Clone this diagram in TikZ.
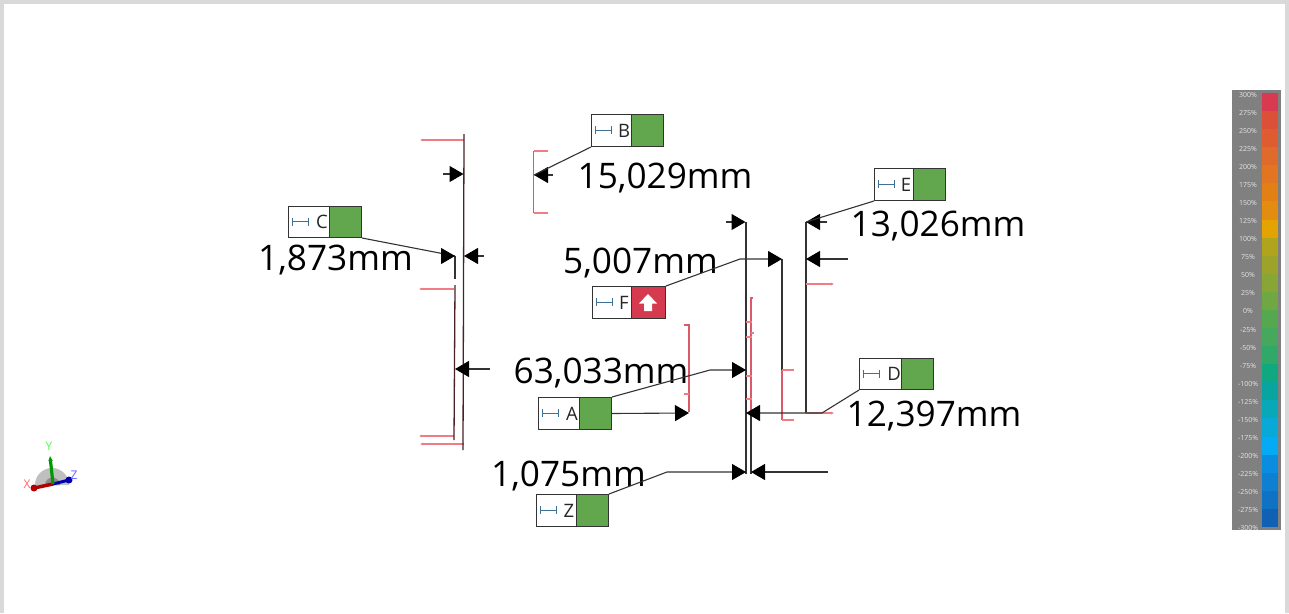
\documentclass[tikz,border=0pt]{standalone}
\usepackage{fontspec}
\setmainfont{Open Sans}
\usetikzlibrary{arrows.meta,calc}
\definecolor{lineK}{HTML}{333333}
\definecolor{darkred}{HTML}{4A2226}
\definecolor{redL}{HTML}{F07C86}
\definecolor{redV}{HTML}{DC5A68}
\definecolor{okG}{HTML}{62A74E}
\definecolor{badR}{HTML}{D63A4E}
\definecolor{iconB}{HTML}{3F7096}
\tikzset{
  dimtext/.style={font=\fontsize{35.2}{35}\selectfont, text=black, inner sep=0pt},
  taglabel/.style={draw=lineK, line width=1pt, fill=white, anchor=north west, inner sep=0pt, minimum height=#1},
  tagval/.style={draw=lineK, line width=1pt, anchor=north west, inner sep=0pt, minimum height=#1},
  leader/.style={draw=lineK, line width=1.1pt, -{Triangle[length=14pt,width=16pt,color=black,fill=black]}},
  partline/.style={draw=lineK, line width=1.1pt},
  darkline/.style={draw=darkred, line width=1.3pt},
  redline/.style={draw=redV, line width=1.1pt},
  redshort/.style={draw=redL, line width=1.1pt},
  redtick/.style={draw=redL, line width=1.1pt, -{Latex[length=3pt,width=3pt]}},
  legendtext/.style={font=\fontsize{7}{7}\selectfont, text=white!90!black, inner sep=0pt},
}
% #1 name, #2 x left, #3 x split, #4 x right, #5 y top, #6 y bottom, #7 letter, #8 fill
\newcommand{\tagbox}[8]{%
  \node[tagval=#6pt-#5pt, minimum width=#4pt-#3pt, fill=#8] (#1v) at (#3,#5) {};
  \node[taglabel=#6pt-#5pt, minimum width=#3pt-#2pt] (#1l) at (#2,#5) {};
  \node[font=\fontsize{18.5}{18}\selectfont, text=black!85, inner sep=0pt] (#1t) at (#3-7,{(#5+#6)/2+0.5}) {#7};
  \draw[iconB, line width=0.9pt] (#2+4,{(#5+#6)/2-4}) -- ++(0,8) (#2+4,{(#5+#6)/2}) -- (#2+20,{(#5+#6)/2}) (#2+20,{(#5+#6)/2-4}) -- ++(0,8);
}
\begin{document}
\begin{tikzpicture}[x=1pt,y=-1pt]
\useasboundingbox (0,0) rectangle (1289,613);
\fill[white] (0,0) rectangle (1289,613);
% page frame
\fill[black!15] (0,0) rectangle (1289,4);
\fill[black!15] (0,0) rectangle (3.5,613);
\fill[black!15] (1285,0) rectangle (1289,613);

% dimension values
\node[dimtext] (vB) at (665,178.5) {15,029mm};
\node[dimtext] (vC) at (335.5,260.5) {1,873mm};
\node[dimtext] (vE) at (938,226.5) {13,026mm};
\node[dimtext] (vF) at (640.5,263.5) {5,007mm};
\node[dimtext] (vA) at (601,373.5) {63,033mm};
\node[dimtext] (vD) at (934,416.5) {12,397mm};
\node[dimtext] (vZ) at (568.5,475.5) {1,075mm};

% left part
\draw[redtick] (464,140) -- (420,140);
\draw[redtick] (454,289) -- (419,289);
\draw[redtick] (454,436) -- (419,436);
\draw[redtick] (464,444) -- (420,444);
\draw[darkline] (464,134) -- (463,450);
\draw[partline] (455,256) -- (455,279);
\draw[darkline] (455,285) -- (454,440);
\coordinate (tL1) at (443,174); \coordinate (hL1) at (463.5,174);
\coordinate (tL2) at (484,256); \coordinate (hL2) at (464,256);
\coordinate (tL3) at (490,369); \coordinate (hL3) at (455,369);
\coordinate (hC) at (455,256);
\draw[leader] (tL1) -- (hL1);
\draw[leader] (tL2) -- (hL2);
\draw[leader] (tL3) -- (hL3);

% B bracket
\draw[redshort] (548,151) -- (533.5,151);
\draw[redshort] (548,213) -- (533.5,213);
\draw[redline] (533.5,151) -- (533.5,213);
\coordinate (hB) at (534,175); \coordinate (tB) at (553,175);
\draw[leader] (tB) -- (hB);

% centre lines
\draw[partline] (746,222) -- (746,474);
\draw[redline] (753,298) -- (751,298) -- (751,414);
\draw[partline] (751,414) -- (751,474);
\draw[redshort] (746,322) -- (752,322);
\draw[redshort] (751,333) -- (754,333);
\draw[redshort] (746,337) -- (752,337);
\draw[redshort] (746,376) -- (752,376);
\draw[redshort] (746,399) -- (752,399);
\coordinate (tM1) at (726,222); \coordinate (hM1) at (745.5,222);
\draw[leader] (tM1) -- (hM1);

% A bracket
\draw[redline] (684,325) -- (689,325) -- (689,412);
\draw[redshort] (684,394) -- (689,394);

% right lines
\draw[partline] (782,259) -- (782,370);
\draw[redline] (782,370) -- (782,420);
\draw[redshort] (782,420) -- (794,420);
\draw[redshort] (782,370) -- (794,370);
\draw[partline] (806,222) -- (806,413);
\draw[redtick] (806,284) -- (834,284);
\draw[redtick] (806,413) -- (834,413);
\coordinate (tR1) at (848,259); \coordinate (hR1) at (806,259);
\draw[leader] (tR1) -- (hR1);
\coordinate (tR2) at (828,472); \coordinate (hR2) at (751,472);
\draw[leader] (tR2) -- (hR2);
\coordinate (tE) at (827,222); \coordinate (hE) at (806,222);
\draw[leader] (tE) -- (hE);

% tags
\tagbox{B}{591}{631}{663}{114}{146}{B}{okG}
\tagbox{C}{288}{329}{361}{206}{237}{C}{okG}
\tagbox{E}{874}{913}{945}{168}{200}{E}{okG}
\tagbox{F}{592}{631}{665}{286}{318}{F}{badR}
\tagbox{A}{538}{579}{611}{397}{429}{A}{okG}
\tagbox{D}{859}{901}{933}{358}{389}{D}{okG}
\tagbox{Z}{536}{576}{608}{494}{526}{Z}{okG}
% F up arrow
\fill[white] (648,294) -- (657,303.5) -- (652,303.5) -- (652,311) -- (644,311) -- (644,303.5) -- (639,303.5) -- cycle;

% tag leaders
\coordinate (kF) at (740,259); \coordinate (hF) at (782,259);
\coordinate (kA) at (710,370); \coordinate (hA1) at (746,370);
\coordinate (hA2) at (689,413);
\coordinate (kZ) at (667,472); \coordinate (hZ) at (746,472);
\coordinate (kD) at (822,413); \coordinate (hD) at (746,413);
\draw[partline] (Cv.south east) -- (hC);
\draw[leader] ($(hC)+(-14,0)$) -- (hC);
\draw[partline] (Bl.south west) -- (hB);
\draw[partline] (El.south west) -- (hE);
\draw[leader] (Fv.north east) -- (kF) -- (hF);
\draw[leader] (Av.north east) -- (kA) -- (hA1);
\draw[leader] (Av.east) -- (hA2);
\draw[leader] (Zv.north east) -- (kZ) -- (hZ);
\draw[leader] (Dl.south west) -- (kD) -- (hD);

% colour legend
\fill[black!50] (1232,90) rectangle (1281,530);
\foreach \c [count=\i from 0] in {D93A50,DC5038,DE5C30,E06A2A,E27522,E28015,E28C10,E3A300,B0A31E,9CA22A,88A636,6FA842,55A850,45A85C,30A868,10A87E,08A5A0,08A8B8,08A8D8,05AAF5,0A8CE0,0D80D2,0F72C4,1060B4}{
  \definecolor{cellc}{HTML}{\c}
  \fill[cellc] (1262,{93+18.08*\i}) rectangle (1278,{93+18.08*(\i+1)});
}
\foreach \l [count=\i from 0] in {300,275,250,225,200,175,150,125,100,75,50,25,0,-25,-50,-75,-100,-125,-150,-175,-200,-225,-250,-275,-300}{
  \node[legendtext] (lg\i) at (1248,{94.5+18.08*\i}) {\l\%};
}

% axis triad
\fill[black!25] (35,485) arc[start angle=180,delta angle=180,radius=17] -- cycle;
\fill[black!45] (45,485) arc[start angle=180,delta angle=180,radius=7.5] -- cycle;
\coordinate (o) at (53,484);
\coordinate (ax) at (34,488); \coordinate (ay) at (50,456); \coordinate (az) at (69,480);
\draw[blue!70!black, line width=3pt] (o) -- (az);
\fill[blue!70!black] (az) circle (3.5);
\draw[red!70!black, line width=3.5pt] (o) -- (ax);
\fill[red!70!black] (ax) circle (3.5);
\draw[green!60!black, line width=3.2pt, -{Triangle[length=5pt,width=4pt]}] (o) -- (ay);
\node[font=\fontsize{12}{12}\selectfont, text=green!70!white, inner sep=0pt] (ly) at (49,446) {Y};
\node[font=\fontsize{12}{12}\selectfont, text=red!60!white, inner sep=0pt] (lx) at (27,484) {X};
\node[font=\fontsize{12}{12}\selectfont, text=blue!60!white, inner sep=0pt] (lz) at (74,475) {Z};
\end{tikzpicture}
\end{document}
